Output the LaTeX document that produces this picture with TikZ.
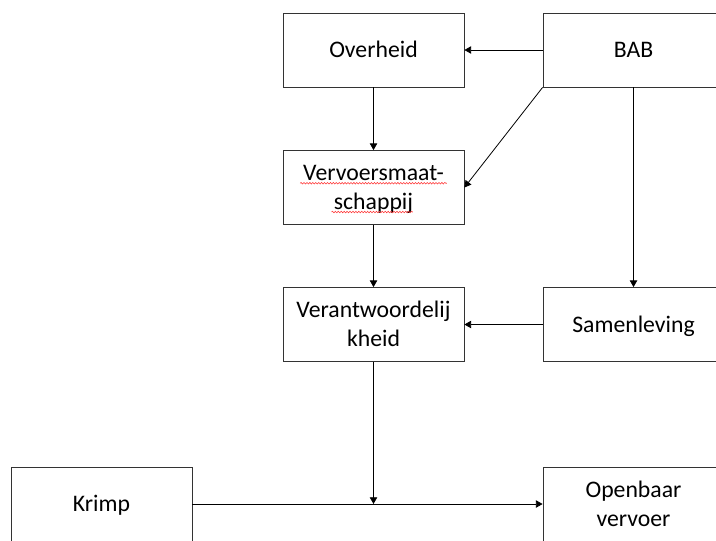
\documentclass[tikz,border=0pt]{standalone}
\usepackage{fontspec}
\setmainfont{Carlito}
\usetikzlibrary{arrows.meta,decorations.pathmorphing}
\newcommand\boxstrut{\rule[-5pt]{0pt}{21.7pt}}
\begin{document}
\begin{tikzpicture}[x=0.75pt, y=-0.75pt,
    box/.style={draw=black!80, line width=0.6pt, minimum width=135.75pt, minimum height=55.5pt,
      inner sep=0pt, align=center, font=\fontsize{17.8}{21.75}\selectfont},
    arr/.style={-{Triangle[length=5pt, width=5.5pt]}, line width=0.6pt},
    squiggle/.style={red!80, line width=0.4pt, decorate,
      decoration={snake, amplitude=0.6pt, segment length=2.2pt}}]
  \useasboundingbox (0,0) rectangle (716,540);
  \clip (0,0) rectangle (716,540);
  \foreach \n/\x/\y/\t in {overheid/373.5/50/Overheid, bab/633.5/50/BAB,
      vervoer/373.5/187.5/{Vervoersmaat-\\schappij}, verantw/373.5/324.5/{Verantwoordelij\\kheid},
      samen/633.5/324.5/Samenleving, krimp/101.5/504/Krimp, ov/633.5/504/{Openbaar\\vervoer}} {
    \node[box] (\n) at (\x,\y) {\boxstrut\t\boxstrut};
  }
  \coordinate (mid) at (verantw |- krimp);
  \draw[arr] (bab) -- (overheid);
  \draw[arr] (overheid) -- (vervoer);
  \draw[arr] (bab.south west) -- (vervoer.east);
  \draw[arr] (vervoer) -- (verantw);
  \draw[arr] (bab) -- (samen);
  \draw[arr] (samen) -- (verantw);
  \draw[arr] (verantw) -- (mid);
  \draw[arr] (krimp) -- (ov);
  \draw[squiggle] ([xshift=-55pt, yshift=3.2pt]vervoer.center) -- ([xshift=55pt, yshift=3.2pt]vervoer.center);
  \draw[squiggle] ([xshift=-31.5pt, yshift=-18.4pt]vervoer.center) -- ([xshift=29.5pt, yshift=-18.4pt]vervoer.center);
\end{tikzpicture}
\end{document}
